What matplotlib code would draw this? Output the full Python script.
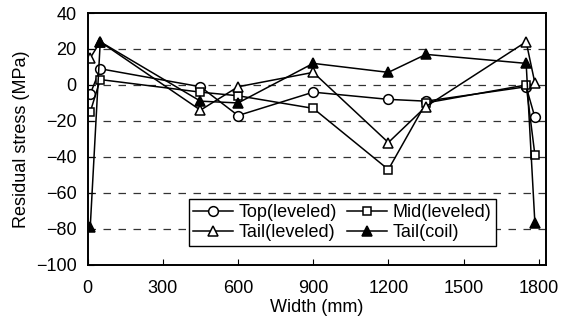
import matplotlib
matplotlib.use("Agg")
from matplotlib import pyplot as plt

plt.rcParams['font.family'] = ['Liberation Sans', 'DejaVu Sans']

width = [10, 50, 450, 600, 900, 1200, 1350, 1750, 1785]
top_lev = [-5, 9, -1, -17, -4, -8, -9, -1, -18]
mid_lev = [-15, 3, -4, -6, -13, -47, -10, 0, -39]
tail_lev = [15, 24, -14, -1, 7, -32, -12, 24, 1]
tail_coil = [-79, 24, -9, -10, 12, 7, 17, 12, -77]

fig = plt.figure(figsize=(5.66, 3.25), dpi=100)
ax = fig.add_axes([0.155, 0.185, 0.81, 0.775])

for y in [20, 0, -20, -40, -60, -80]:
    ax.axhline(y, color='#333333', ls=(0, (6, 6)), lw=0.9, zorder=0)

kw = dict(color='black', lw=1.1, ms=7, mew=1.1)
l1, = ax.plot(width, top_lev, marker='o', mfc='white', label='Top(leveled)', **kw)
l2, = ax.plot(width, mid_lev, marker='s', mfc='white', ms=5.5, color='black', lw=1.1, mew=1.1, label='Mid(leveled)')
l3, = ax.plot(width, tail_lev, marker='^', mfc='white', label='Tail(leveled)', **kw)
l4, = ax.plot(width, tail_coil, marker='^', mfc='black', label='Tail(coil)', **kw)

ax.set_xlim(0, 1830)
ax.set_ylim(-100, 40)
ax.set_xticks([0, 300, 600, 900, 1200, 1500, 1800])
ax.set_yticks(range(-100, 41, 20))
ax.set_yticklabels(['\u2212100', '\u221280', '\u221260', '\u221240', '\u221220', '0', '20', '40'])
ax.tick_params(direction='in', labelsize=13, length=4)
ax.tick_params(axis='x', pad=11)
ax.tick_params(axis='y', pad=8)
for s in ax.spines.values():
    s.set_linewidth(1.4)
ax.set_xlabel('Width (mm)', fontsize=13, labelpad=1)
ax.set_ylabel('Residual stress (MPa)', fontsize=13, labelpad=4)

ax.legend([l1, l3, l2, l4], [h.get_label() for h in (l1, l3, l2, l4)],
          ncol=2, loc='lower left', bbox_to_anchor=(0.22, 0.075), fontsize=13,
          frameon=True, fancybox=False, edgecolor='black', handlelength=2.2,
          handletextpad=0.3, columnspacing=0.6, borderpad=0.25, labelspacing=0.2,
          borderaxespad=0, framealpha=1)

fig.savefig('out.png', dpi=100)
